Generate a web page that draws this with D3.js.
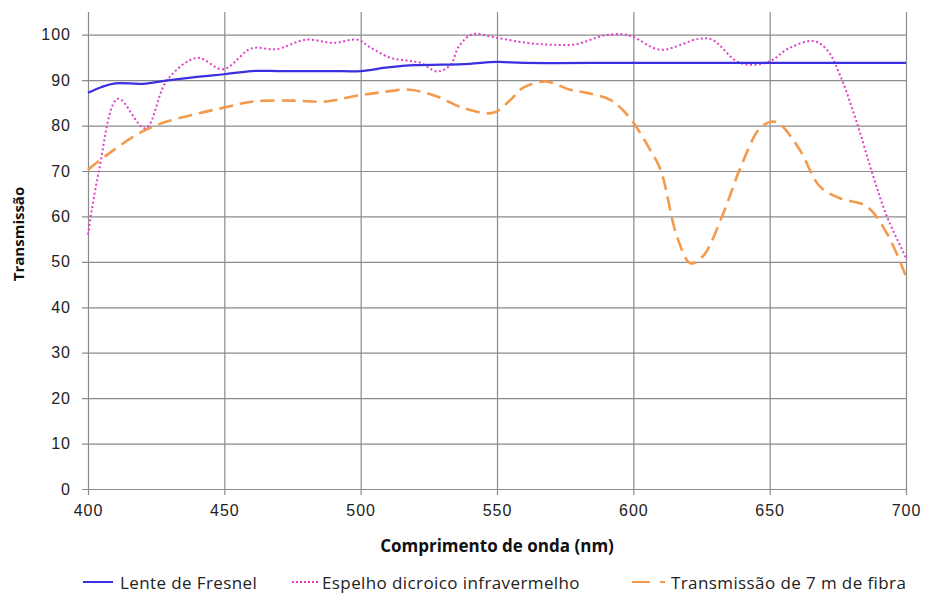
<!DOCTYPE html>
<html>
<head>
<meta charset="utf-8">
<script src="https://cdn.jsdelivr.net/npm/d3@7"></script>
<style>
  body { margin: 0; background: #fff; }
  svg { font-family: "Open Sans", Lato, sans-serif; }
</style>
</head>
<body>
<svg id="chart" width="925" height="594"></svg>
<script>
// wavelengths (nm) and transmission (%)
const fresnelNm = [400, 405, 410, 420, 430, 440, 450, 460, 470, 480, 490, 500, 510, 520, 530, 540, 550, 560, 600, 650, 700];
const fresnelT  = [87.2, 88.5, 89.3, 89.2, 90, 90.7, 91.3, 92, 92, 92, 92, 92, 92.8, 93.3, 93.4, 93.6, 94, 93.8, 93.8, 93.8, 93.8];

const espelhoNm = [400, 404, 411, 421, 429, 440, 449.5, 460, 469, 480, 490, 499, 503, 511, 517, 522, 528, 533, 536, 541, 550, 561, 570, 579, 589, 596, 600, 610, 624, 629, 638, 644, 650, 657, 666, 671, 676, 682, 688, 693, 700];
const espelhoT  = [56, 70, 85.9, 79.4, 90, 94.9, 92.4, 97, 96.8, 98.9, 98.2, 98.9, 97.4, 94.9, 94.3, 93.8, 91.9, 93.4, 97.4, 100.1, 99.3, 98.2, 97.8, 97.9, 99.8, 100.1, 99.5, 96.7, 99.1, 98.9, 94.1, 93.4, 94.1, 97, 98.6, 96.7, 90.8, 80.6, 68.8, 60, 50.9];

const fibraNm = [400, 408, 419, 427.5, 438.5, 449.5, 460.5, 475, 487.5, 497, 506, 518, 528, 537.5, 548.5, 554.7, 559.5, 568, 576.7, 583, 591.4, 596, 601, 606, 610, 616, 621, 625.5, 633, 639, 646.4, 651, 654, 661, 668.4, 675.8, 685.6, 693, 700];
const fibraT  = [70.3, 74, 78.4, 80.6, 82.4, 83.9, 85.3, 85.5, 85.3, 86.4, 87.2, 87.9, 86.4, 83.9, 82.8, 85.5, 88.3, 89.7, 87.9, 87.2, 85.7, 83.5, 79.8, 74.8, 70.3, 55.6, 49.7, 51.2, 60.7, 70.3, 79.4, 80.9, 80.2, 74.7, 66.6, 64, 62.2, 56.3, 46.8];

const xTicks = [400, 450, 500, 550, 600, 650, 700];
const yTicks = [0, 10, 20, 30, 40, 50, 60, 70, 80, 90, 100];

const series = [
  { name: "Lente de Fresnel", nm: fresnelNm, t: fresnelT, color: "#3b2fe0", width: 2.2, dash: null },
  { name: "Espelho dicroico infravermelho", nm: espelhoNm, t: espelhoT, color: "#e040c8", width: 2, dash: "2,2.5" },
  { name: "Transmissão de 7 m de fibra", nm: fibraNm, t: fibraT, color: "#f39a4c", width: 2.6, dash: "14,7" },
];

const svg = d3.select("#chart");
const plotLeft = 88, plotRight = 906, plotTop = 12, plotBottom = 489;

const x = d3.scaleLinear().domain([400, 700]).range([plotLeft, plotRight]);
const y = d3.scaleLinear().domain([0, 105]).range([plotBottom, plotTop]);

const grid = "#8c8c8c";

// horizontal gridlines + y ticks
svg.append("g")
  .attr("transform", `translate(${plotLeft - 6},0)`)
  .call(d3.axisLeft(y).tickValues(yTicks).tickSize(-(plotRight - plotLeft + 6)).tickPadding(11))
  .call(g => g.select(".domain").remove())
  .call(g => g.selectAll("line").attr("stroke", grid).attr("stroke-width", 1.2))
  .call(g => g.selectAll("text").attr("fill", "#222").style("font-size", "16px").style("letter-spacing", "1px"));

// vertical gridlines + x ticks
svg.append("g")
  .attr("transform", `translate(0,${plotBottom + 6})`)
  .call(d3.axisBottom(x).tickValues(xTicks).tickSize(-(plotBottom + 6 - plotTop)).tickPadding(10))
  .call(g => g.select(".domain").remove())
  .call(g => g.selectAll("line").attr("stroke", grid).attr("stroke-width", 1.2))
  .call(g => g.selectAll("text").attr("fill", "#222").style("font-size", "16px").style("letter-spacing", "1px"));

const line = d3.line()
  .x(d => x(d[0]))
  .y(d => y(d[1]))
  .curve(d3.curveCatmullRom.alpha(0.5));

// draw fiber first, then mirror, then lens on top
[series[2], series[1], series[0]].forEach(s => {
  svg.append("path")
    .datum(s.nm.map((v, i) => [v, s.t[i]]))
    .attr("fill", "none")
    .attr("stroke", s.color)
    .attr("stroke-width", s.width)
    .attr("stroke-dasharray", s.dash)
    .attr("d", line);
});

// axis titles
svg.append("text")
  .attr("x", (plotLeft + plotRight) / 2)
  .attr("y", 552)
  .attr("text-anchor", "middle")
  .style("font-size", "17px")
  .style("font-weight", "bold")
  .attr("fill", "#111")
  .text("Comprimento de onda (nm)");

svg.append("text")
  .attr("transform", `translate(24,234) rotate(-90)`)
  .attr("text-anchor", "middle")
  .style("font-size", "15px")
  .style("font-weight", "bold")
  .attr("fill", "#111")
  .text("Transmissão");

// legend
const legendY = 582;
const legend = [
  { s: series[0], x0: 83, x1: 113, tx: 120, dash: null },
  { s: series[1], x0: 292, x1: 318, tx: 322, dash: "2,2" },
  { s: series[2], x0: 632, x1: 665, tx: 671, dash: "18,10" },
];
legend.forEach(l => {
  svg.append("line")
    .attr("x1", l.x0).attr("x2", l.x1)
    .attr("y1", legendY).attr("y2", legendY)
    .attr("stroke", l.s.color)
    .attr("stroke-width", 2)
    .attr("stroke-dasharray", l.dash);
  svg.append("text")
    .attr("x", l.tx)
    .attr("y", legendY + 7)
    .style("font-size", "17px")
    .style("letter-spacing", "0.4px")
    .attr("fill", "#222")
    .text(l.s.name);
});
</script>
</body>
</html>
